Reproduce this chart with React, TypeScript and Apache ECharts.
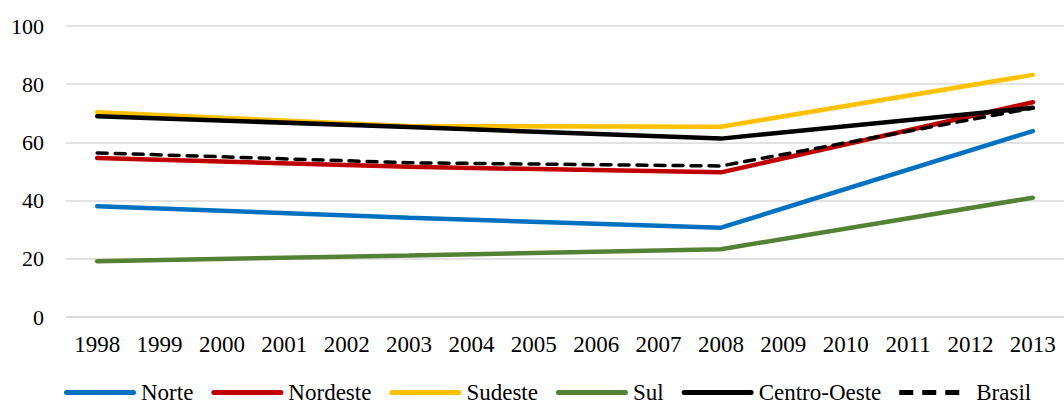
import React, { useEffect, useRef } from "react";
import * as echarts from "echarts";

// Survey years on the category axis; only 1998, 2003, 2008 and 2013 carry values.
const years = [
  "1998", "1999", "2000", "2001", "2002", "2003", "2004", "2005",
  "2006", "2007", "2008", "2009", "2010", "2011", "2012", "2013",
];

const N = null;
const norte = [38.1, N, N, N, N, 34.1, N, N, N, N, 30.7, N, N, N, N, 63.9];
const nordeste = [54.6, N, N, N, N, 51.6, N, N, N, N, 49.7, N, N, N, N, 73.8];
const sudeste = [70.4, N, N, N, N, 65.6, N, N, N, N, 65.4, N, N, N, N, 83.2];
const sul = [19.2, N, N, N, N, 21.1, N, N, N, N, 23.3, N, N, N, N, 41.0];
const centroOeste = [69.0, N, N, N, N, 65.3, N, N, N, N, 61.3, N, N, N, N, 71.9];
const brasil = [56.4, N, N, N, N, 53.0, N, N, N, N, 51.9, N, N, N, N, 71.8];

const FONT = "Times New Roman";

// Legend keys: a rounded bar for solid lines, three short bars for the dashed one.
const SOLID_ICON = "path://M2.5,0 H69.5 A2.5,2.5 0 0 1 69.5,5 H2.5 A2.5,2.5 0 0 1 2.5,0 Z";
const DASH_ICON =
  "path://M0,0 H14 V5 H0 Z M23,0 H37 V5 H23 Z M46,0 H60 V5 H46 Z M60,0 H72 V0 H60 Z";

function lineSeries(name: string, data: (number | null)[], color: string, dashed = false) {
  return {
    name,
    type: "line",
    data,
    connectNulls: true,
    symbol: "none",
    showSymbol: false,
    itemStyle: { color },
    lineStyle: {
      color,
      width: dashed ? 3.5 : 4.5,
      type: dashed ? [10, 8] : "solid",
      cap: "round",
    },
  };
}

export default function App() {
  const ref = useRef<HTMLDivElement>(null);

  useEffect(() => {
    if (!ref.current) return;
    const chart = echarts.init(ref.current, undefined, { renderer: "svg" });
    const names = ["Norte", "Nordeste", "Sudeste", "Sul", "Centro-Oeste", "Brasil"];
    chart.setOption({
      animation: false,
      backgroundColor: "#ffffff",
      textStyle: { fontFamily: FONT },
      grid: { left: 66, top: 26, width: 1006, height: 291 },
      xAxis: {
        type: "category",
        data: years,
        boundaryGap: true,
        axisLine: { show: true, lineStyle: { color: "#d9d9d9", width: 1.5 } },
        axisTick: { show: false },
        axisLabel: { fontFamily: FONT, fontSize: 23, color: "#000", margin: 16 },
      },
      yAxis: {
        type: "value",
        min: 0,
        max: 100,
        interval: 20,
        axisLine: { show: false },
        axisTick: { show: false },
        splitLine: { lineStyle: { color: "#d9d9d9", width: 1.5 } },
        axisLabel: { fontFamily: FONT, fontSize: 22, color: "#000", margin: 22 },
      },
      legend: {
        top: 381,
        left: 64,
        padding: 0,
        itemWidth: 72,
        itemHeight: 5,
        itemGap: 18,
        textStyle: { fontFamily: FONT, fontSize: 23, color: "#000" },
        data: names.map((n) => ({ name: n, icon: n === "Brasil" ? DASH_ICON : SOLID_ICON })),
      },
      series: [
        lineSeries("Norte", norte, "#0070C0"),
        lineSeries("Nordeste", nordeste, "#C00000"),
        lineSeries("Sudeste", sudeste, "#FFC000"),
        lineSeries("Sul", sul, "#548235"),
        lineSeries("Centro-Oeste", centroOeste, "#000000"),
        lineSeries("Brasil", brasil, "#000000", true),
      ],
    });
    return () => chart.dispose();
  }, []);

  return (
    <div
      ref={ref}
      style={{ position: "fixed", left: 0, top: 0, width: 1064, height: 406, background: "#fff" }}
    />
  );
}
